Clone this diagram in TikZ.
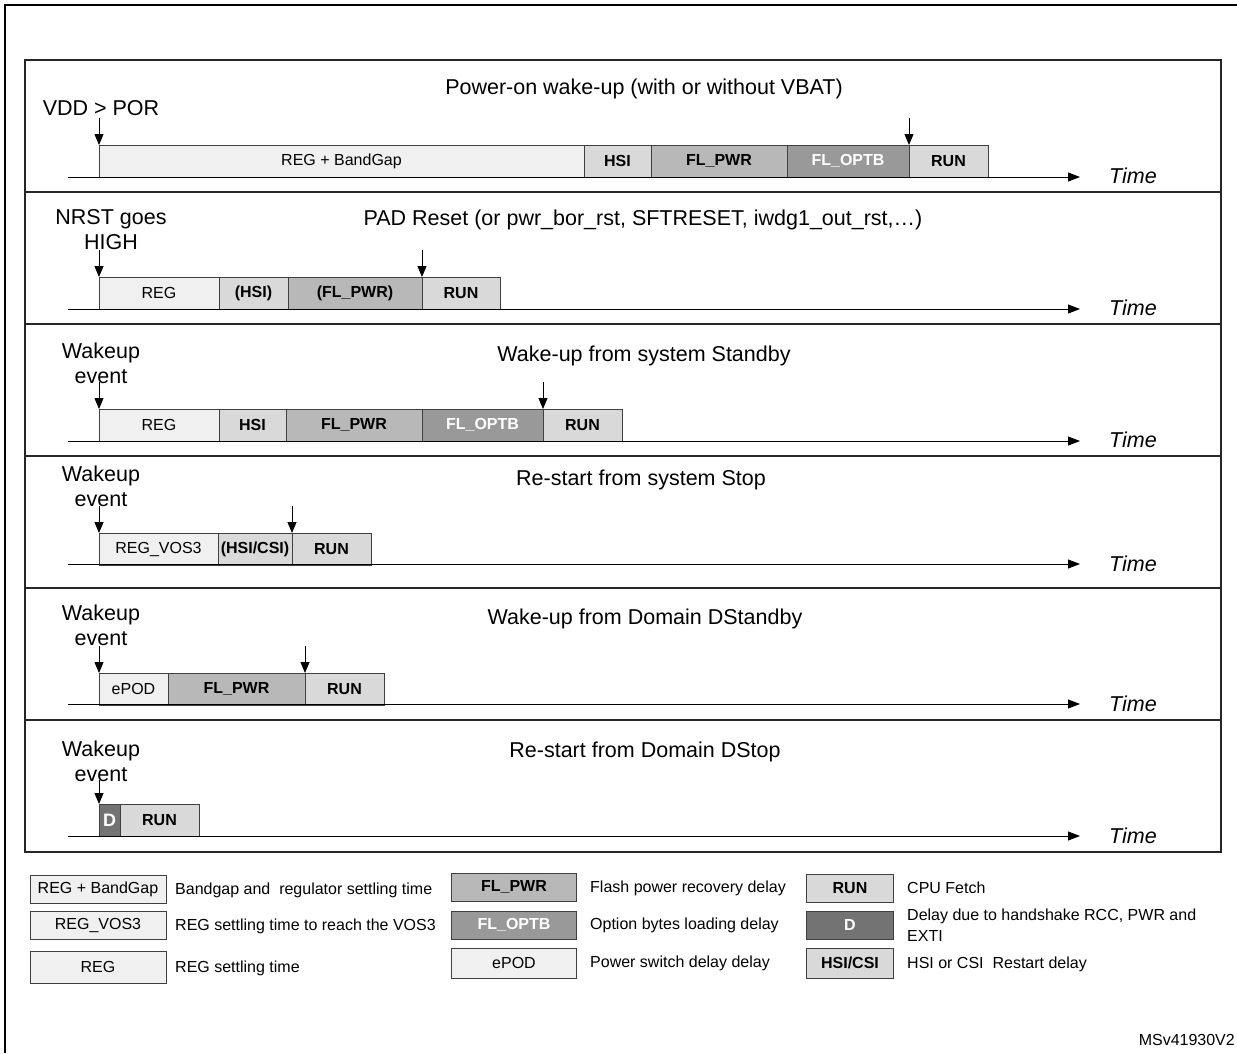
\documentclass[tikz,border=0pt]{standalone}
\usepackage{fontspec}
\setmainfont{Liberation Sans}
\usetikzlibrary{arrows.meta}
\definecolor{cA}{gray}{0.94}
\definecolor{cB}{gray}{0.85}
\definecolor{cC}{gray}{0.72}
\definecolor{cD}{gray}{0.60}
\definecolor{cE}{gray}{0.45}
\definecolor{lineC}{gray}{0.25}
\begin{document}
\begin{tikzpicture}[x=1pt,y=-1pt,
  seg/.style={draw=lineC, line width=0.9pt, outer sep=0pt, minimum height=32pt, inner sep=0pt, anchor=north west, font=\fontsize{16}{18}\selectfont},
  bseg/.style={seg, font=\fontsize{16}{18}\selectfont\bfseries},
  lab/.style={font=\fontsize{21.5}{25}\selectfont, inner sep=0pt},
  ttl/.style={font=\fontsize{21.5}{25}\selectfont, inner sep=0pt},
  tim/.style={font=\fontsize{21.5}{25}\selectfont\itshape, inner sep=0pt},
  evt/.style={draw=black, line width=0.9pt, -{Triangle[length=11pt,width=9pt]}},
  axis/.style={draw=black, line width=0.9pt, -{Triangle[length=12pt,width=9pt]}},
  frm/.style={draw=black!85, line width=1.4pt},
  lbox/.style={draw=lineC, line width=0.9pt, outer sep=0pt, minimum height=28pt, inner sep=0pt, font=\fontsize{16}{18}\selectfont},
  lboxb/.style={lbox, font=\fontsize{16}{18}\selectfont\bfseries},
  ltxt/.style={anchor=west, inner sep=0pt, font=\fontsize{16}{21}\selectfont}
]
\useasboundingbox (0,0) rectangle (1237,1053);
% outer frame (cropped)
\draw[line width=2pt] (5,1053) -- (5,5) -- (1237,5);
% inner frame and row separators
\draw[frm] (25,60) rectangle (1221,852);
\foreach \yy in {192,324,456,588,720} \draw[frm] (25,\yy) -- (1221,\yy);

% ---------- Row 1 ----------
\node[ttl] (t1) at (644,89) {Power-on wake-up (with or without VBAT)};
\node[lab] (l1) at (101,108) {VDD > POR};
\node[seg, fill=cA, minimum width=485pt] (r1a) at (99,145) {REG + BandGap};
\node[bseg, fill=cB, minimum width=67pt] (r1b) at (r1a.north east) {HSI};
\node[bseg, fill=cC, minimum width=136pt] (r1c) at (r1b.north east) {FL\_PWR};
\node[bseg, fill=cD, text=white, minimum width=122pt] (r1d) at (r1c.north east) {FL\_OPTB};
\node[bseg, fill=cB, minimum width=79pt] (r1e) at (r1d.north east) {RUN};
\coordinate (e1a) at ([yshift=27pt]r1a.north west);
\coordinate (e1b) at ([yshift=27pt]r1e.north west);
\draw[evt] (e1a) -- (r1a.north west);
\draw[evt] (e1b) -- (r1e.north west);
\coordinate (a1s) at (68,177);
\coordinate (a1e) at (1080,177);
\draw[axis] (a1s) -- (a1e);
\node[tim] (tm1) at (1133,176) {Time};

% ---------- Row 2 ----------
\node[ttl] (t2) at (643,220) {PAD Reset (or pwr\_bor\_rst, SFTRESET, iwdg1\_out\_rst,\dots)};
\node[lab, align=center] (l2) at (111,230) {NRST goes\\HIGH};
\node[seg, fill=cA, minimum width=120pt] (r2a) at (99,277) {REG};
\node[bseg, fill=cB, minimum width=69pt] (r2b) at (r2a.north east) {(HSI)};
\node[bseg, fill=cC, minimum width=134pt] (r2c) at (r2b.north east) {(FL\_PWR)};
\node[bseg, fill=cB, minimum width=78pt] (r2d) at (r2c.north east) {RUN};
\coordinate (e2a) at ([yshift=27pt]r2a.north west);
\coordinate (e2b) at ([yshift=27pt]r2d.north west);
\draw[evt] (e2a) -- (r2a.north west);
\draw[evt] (e2b) -- (r2d.north west);
\coordinate (a2s) at (68,309);
\coordinate (a2e) at (1080,309);
\draw[axis] (a2s) -- (a2e);
\node[tim] (tm2) at (1133,308) {Time};

% ---------- Row 3 ----------
\node[ttl] (t3) at (644,356) {Wake-up from system Standby};
\node[lab, align=center] (l3) at (101,363) {Wakeup\\event};
\node[seg, fill=cA, minimum width=120pt] (r3a) at (99,409) {REG};
\node[bseg, fill=cB, minimum width=67pt] (r3b) at (r3a.north east) {HSI};
\node[bseg, fill=cC, minimum width=136pt] (r3c) at (r3b.north east) {FL\_PWR};
\node[bseg, fill=cD, text=white, minimum width=121pt] (r3d) at (r3c.north east) {FL\_OPTB};
\node[bseg, fill=cB, minimum width=79pt] (r3e) at (r3d.north east) {RUN};
\coordinate (e3a) at ([yshift=27pt]r3a.north west);
\coordinate (e3b) at ([yshift=27pt]r3e.north west);
\draw[evt] (e3a) -- (r3a.north west);
\draw[evt] (e3b) -- (r3e.north west);
\coordinate (a3s) at (68,441);
\coordinate (a3e) at (1080,441);
\draw[axis] (a3s) -- (a3e);
\node[tim] (tm3) at (1133,440) {Time};

% ---------- Row 4 ----------
\node[ttl] (t4) at (641,480) {Re-start from system Stop};
\node[lab, align=center] (l4) at (101,486) {Wakeup\\event};
\node[seg, fill=cA, minimum width=119pt] (r4a) at (99,533) {REG\_VOS3};
\node[bseg, fill=cB, minimum width=74pt] (r4b) at (r4a.north east) {(HSI/CSI)};
\node[bseg, fill=cB, minimum width=79pt] (r4c) at (r4b.north east) {RUN};
\coordinate (e4a) at ([yshift=27pt]r4a.north west);
\coordinate (e4b) at ([yshift=27pt]r4c.north west);
\draw[evt] (e4a) -- (r4a.north west);
\draw[evt] (e4b) -- (r4c.north west);
\coordinate (a4s) at (68,564);
\coordinate (a4e) at (1080,564);
\draw[axis] (a4s) -- (a4e);
\node[tim] (tm4) at (1133,564) {Time};

% ---------- Row 5 ----------
\node[ttl] (t5) at (645,619) {Wake-up from Domain DStandby};
\node[lab, align=center] (l5) at (101,625) {Wakeup\\event};
\node[seg, fill=cA, minimum width=69pt] (r5a) at (99,673) {ePOD};
\node[bseg, fill=cC, minimum width=137pt] (r5b) at (r5a.north east) {FL\_PWR};
\node[bseg, fill=cB, minimum width=79pt] (r5c) at (r5b.north east) {RUN};
\coordinate (e5a) at ([yshift=27pt]r5a.north west);
\coordinate (e5b) at ([yshift=27pt]r5c.north west);
\draw[evt] (e5a) -- (r5a.north west);
\draw[evt] (e5b) -- (r5c.north west);
\coordinate (a5s) at (68,704);
\coordinate (a5e) at (1080,704);
\draw[axis] (a5s) -- (a5e);
\node[tim] (tm5) at (1133,704) {Time};

% ---------- Row 6 ----------
\node[ttl] (t6) at (645,752) {Re-start from Domain DStop};
\node[lab, align=center] (l6) at (101,761) {Wakeup\\event};
\node[bseg, fill=cE, text=white, minimum width=21pt, font=\fontsize{18}{20}\selectfont\bfseries] (r6a) at (99,804) {D};
\node[bseg, fill=cB, minimum width=79pt] (r6b) at (r6a.north east) {RUN};
\coordinate (e6a) at ([yshift=24pt]r6a.north west);
\draw[evt] (e6a) -- (r6a.north west);
\coordinate (a6s) at (68,836);
\coordinate (a6e) at (1080,836);
\draw[axis] (a6s) -- (a6e);
\node[tim] (tm6) at (1133,836) {Time};

% ---------- Legend ----------
\node[lbox, fill=cA, minimum width=136pt] (g1) at (98,889) {REG + BandGap};
\node[ltxt] (g1t) at (175,890) {Bandgap and\ \ regulator settling time};
\node[lbox, fill=cA, minimum width=136pt] (g2) at (98,925) {REG\_VOS3};
\node[ltxt] (g2t) at (175,926) {REG settling time to reach the VOS3};
\node[lbox, fill=cA, minimum width=136pt, minimum height=32pt] (g3) at (98,967) {REG};
\node[ltxt] (g3t) at (175,968) {REG settling time};

\node[lboxb, fill=cC, minimum width=125pt] (g4) at (514,887) {FL\_PWR};
\node[ltxt] (g4t) at (590,888) {Flash power recovery delay};
\node[lboxb, fill=cD, text=white, minimum width=125pt] (g5) at (514,925) {FL\_OPTB};
\node[ltxt] (g5t) at (590,925) {Option bytes loading delay};
\node[lbox, fill=cA, minimum width=125pt, minimum height=30pt] (g6) at (514,963) {ePOD};
\node[ltxt] (g6t) at (590,963) {Power switch delay delay};

\node[lboxb, fill=cB, minimum width=87pt] (g7) at (850,888) {RUN};
\node[ltxt] (g7t) at (907,888) {CPU Fetch};
\node[lboxb, fill=cE, text=white, minimum width=87pt] (g8) at (850,925) {D};
\node[ltxt, align=left] (g8t) at (907,925) {Delay due to handshake RCC, PWR and\\EXTI};
\node[lboxb, fill=cB, minimum width=87pt, minimum height=30pt] (g9) at (850,963) {HSI/CSI};
\node[ltxt] (g9t) at (907,964) {HSI or CSI\ \ Restart delay};

\node[anchor=east, inner sep=0pt, font=\fontsize{16}{18}\selectfont] (ms) at (1235,1040) {MSv41930V2};
\end{tikzpicture}
\end{document}
